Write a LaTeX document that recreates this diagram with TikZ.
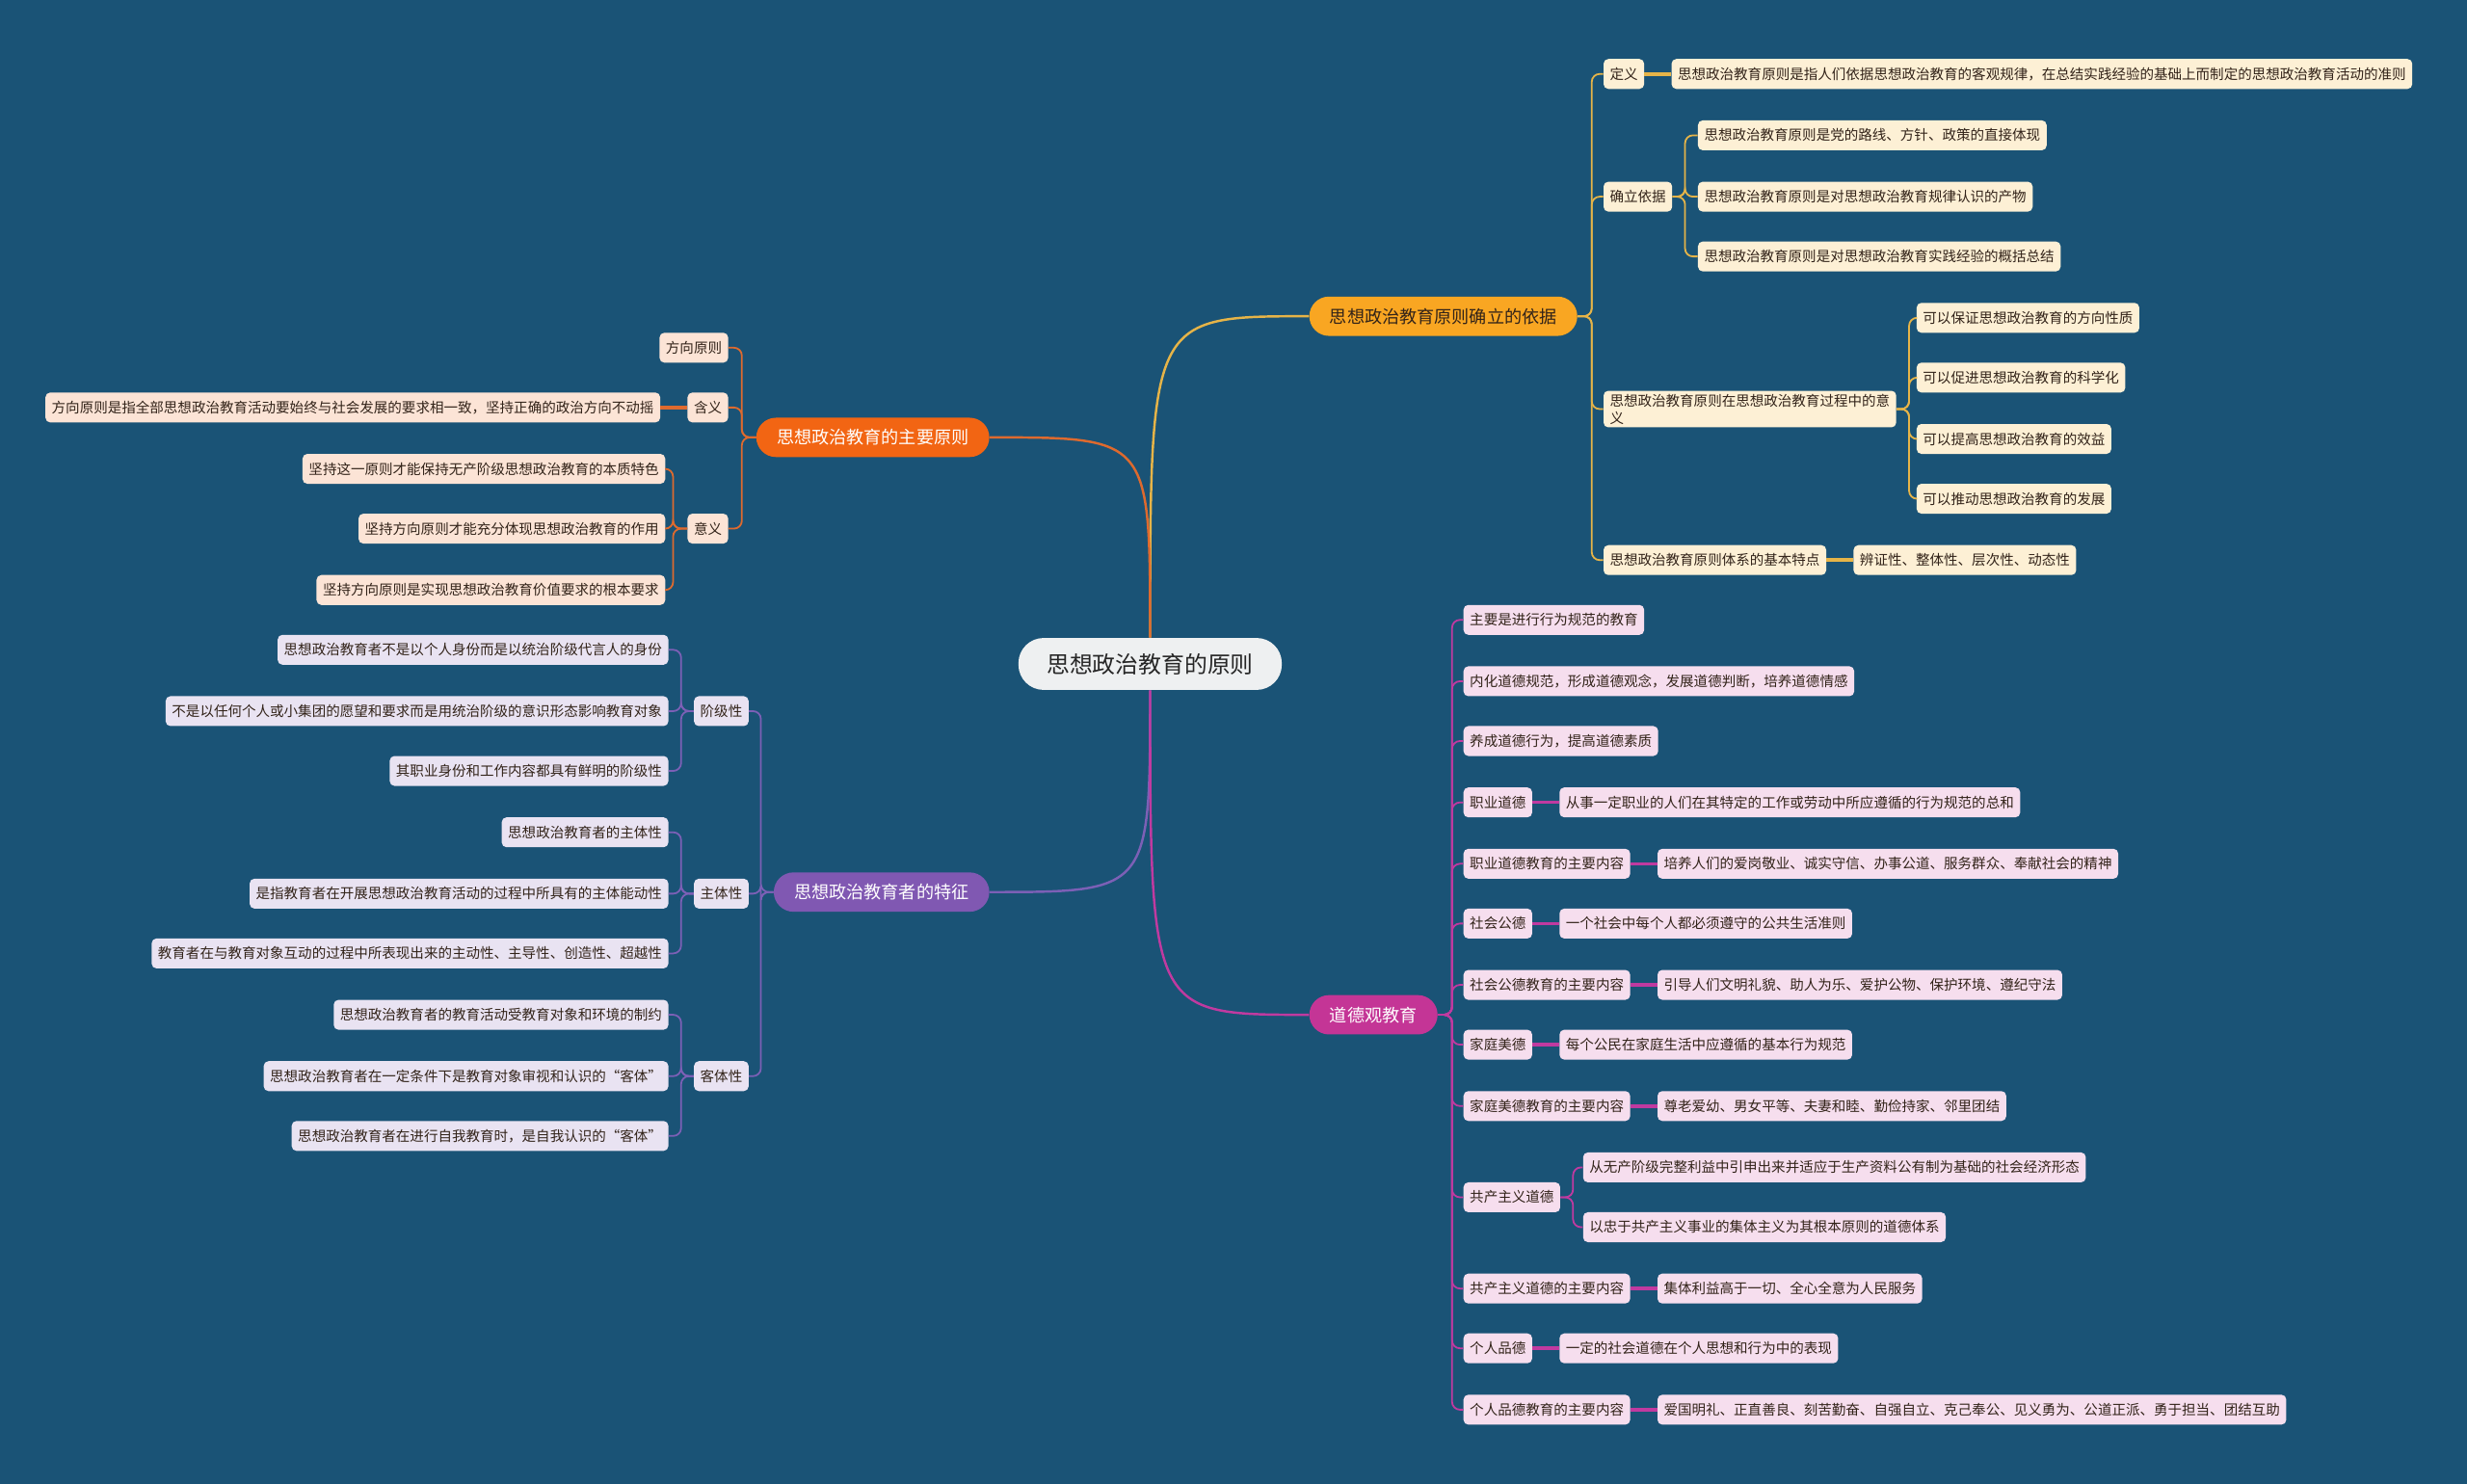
\documentclass[tikz,border=0pt]{standalone}
\usepackage{fontspec}
\setmainfont{Noto Sans CJK SC}
\usepackage{tikz}
\usetikzlibrary{positioning}
\definecolor{cBack}{RGB}{26,83,118}
\definecolor{cRoot}{RGB}{238,240,241}
\definecolor{cInk}{RGB}{50,35,25}
\definecolor{cAmber}{RGB}{249,166,34}
\definecolor{cAmberLn}{RGB}{230,180,72}
\definecolor{cAmberLf}{RGB}{253,240,213}
\definecolor{cOrange}{RGB}{242,101,19}
\definecolor{cOrangeLn}{RGB}{222,106,46}
\definecolor{cOrangeLf}{RGB}{252,228,214}
\definecolor{cPurple}{RGB}{128,88,178}
\definecolor{cPurpleLn}{RGB}{124,96,182}
\definecolor{cPurpleLf}{RGB}{233,227,242}
\definecolor{cMagenta}{RGB}{196,53,150}
\definecolor{cMagentaLn}{RGB}{192,58,160}
\definecolor{cMagentaLf}{RGB}{246,222,238}
\tikzset{
	rootnode/.style={rectangle, rounded corners=16pt, minimum height=33pt, inner xsep=18pt, fill=cRoot, text=black!85, font=\fontsize{14.6}{16}\selectfont},
	topic/.style   ={rectangle, rounded corners=12.5pt, minimum height=25pt, inner xsep=13pt, text=white, font=\fontsize{11.1}{13}\selectfont},
	leaf/.style    ={rectangle, rounded corners=3pt, minimum height=19pt, inner xsep=4pt, inner ysep=2pt, text=cInk, font=\fontsize{8.9}{11}\selectfont},
	aLeaf/.style   ={leaf, fill=cAmberLf},
	oLeaf/.style   ={leaf, fill=cOrangeLf},
	pLeaf/.style   ={leaf, fill=cPurpleLf},
	mLeaf/.style   ={leaf, fill=cMagentaLf},
	% connector styles
	branch/.style  ={line width=1.5pt},
	twig/.style    ={line width=1.1pt, rounded corners=5pt},
	stem/.style    ={line width=2.2pt},
}

\begin{document}
\begin{tikzpicture}[x=1pt, y=-1pt]
	\fill[cBack] (0,0) rectangle (1568,943);
	\useasboundingbox (0,0) rectangle (1568,943);

	\node[rootnode] (root) at (731,422) {思想政治教育的原则};
	\node[topic, fill=cAmber, text=cInk, anchor=west] (yiju) at (832,201) {思想政治教育原则确立的依据};
	\node[topic, fill=cOrange, anchor=east] (yuanze) at (629,278) {思想政治教育的主要原则};
	\node[topic, fill=cPurple, anchor=east] (tezheng) at (629,567) {思想政治教育者的特征};
	\node[topic, fill=cMagenta, anchor=west] (daode) at (832,645) {道德观教育};

	\draw[branch, cAmberLn]   (root.north) .. controls (root.north |- yiju.west) .. (yiju.west);
	\draw[branch, cOrangeLn]  (root.north) .. controls (root.north |- yuanze.east) .. (yuanze.east);
	\draw[branch, cPurpleLn]  (root.south) .. controls (root.south |- tezheng.east) .. (tezheng.east);
	\draw[branch, cMagentaLn] (root.south) .. controls (root.south |- daode.west) .. (daode.west);

	% 确立的依据
	\node[aLeaf, anchor=west] (dingyi) at (1019,47) {定义};
	\node[aLeaf, right=17pt of dingyi] (dingyiT) {思想政治教育原则是指人们依据思想政治教育的客观规律，在总结实践经验的基础上而制定的思想政治教育活动的准则};
	\node[aLeaf, anchor=west] (queli) at (1019,125) {确立依据};
	\node[aLeaf, anchor=west, align=left] (zuoyong) at (1019,260) {思想政治教育原则在思想政治教育过程中的意\\义};
	\node[aLeaf, anchor=west] (tedian) at (1019,356) {思想政治教育原则体系的基本特点};
	\node[aLeaf, right=17pt of tedian] (tedianT) {辨证性、整体性、层次性、动态性};
	\foreach \c in {dingyi, queli, zuoyong, tedian}
		\draw[twig, cAmberLn] (yiju.east) -- ++(9,0) |- (\c.west);
	\draw[stem, cAmberLn] (dingyi.east) -- (dingyiT.west);
	\draw[stem, cAmberLn] (tedian.east) -- (tedianT.west);
	\foreach \n/\y/\t in {q1/86/思想政治教育原则是党的路线、方针、政策的直接体现,
		q2/125/思想政治教育原则是对思想政治教育规律认识的产物,
		q3/163/思想政治教育原则是对思想政治教育实践经验的概括总结} {
		\node[aLeaf, anchor=west] (\n) at (1079,\y) {\t};
		\draw[twig, cAmberLn] (queli.east) -- ++(8,0) |- (\n.west);
	}
	\foreach \n/\y/\t in {z1/202/可以保证思想政治教育的方向性质,
		z2/240/可以促进思想政治教育的科学化,
		z3/279/可以提高思想政治教育的效益,
		z4/317/可以推动思想政治教育的发展} {
		\node[aLeaf, anchor=west] (\n) at (1218,\y) {\t};
		\draw[twig, cAmberLn] (zuoyong.east) -- ++(8,0) |- (\n.west);
	}

	% 主要原则
	\node[oLeaf, anchor=east] (fangxiang) at (463,221) {方向原则};
	\node[oLeaf, anchor=east] (hanyi) at (463,259) {含义};
	\node[oLeaf, left=17pt of hanyi] (hanyiT) {方向原则是指全部思想政治教育活动要始终与社会发展的要求相一致，坚持正确的政治方向不动摇};
	\node[oLeaf, anchor=east] (yiyi) at (463,336) {意义};
	\foreach \c in {fangxiang, hanyi, yiyi}
		\draw[twig, cOrangeLn] (yuanze.west) -- ++(-9,0) |- (\c.east);
	\draw[stem, cOrangeLn] (hanyi.west) -- (hanyiT.east);
	\foreach \n/\y/\t in {y1/298/坚持这一原则才能保持无产阶级思想政治教育的本质特色,
		y2/336/坚持方向原则才能充分体现思想政治教育的作用,
		y3/375/坚持方向原则是实现思想政治教育价值要求的根本要求} {
		\node[oLeaf, anchor=east] (\n) at (423,\y) {\t};
		\draw[twig, cOrangeLn] (yiyi.west) -- ++(-9,0) |- (\n.east);
	}

	% 教育者的特征
	\foreach \n/\y/\t in {jieji/452/阶级性, zhuti/568/主体性, keti/684/客体性} {
		\node[pLeaf, anchor=east] (\n) at (476,\y) {\t};
		\draw[twig, cPurpleLn] (tezheng.west) -- ++(-8,0) |- (\n.east);
	}
	\foreach \p/\n/\y/\t in {jieji/j1/413/思想政治教育者不是以个人身份而是以统治阶级代言人的身份,
		jieji/j2/452/不是以任何个人或小集团的愿望和要求而是用统治阶级的意识形态影响教育对象,
		jieji/j3/490/其职业身份和工作内容都具有鲜明的阶级性,
		zhuti/h1/529/思想政治教育者的主体性,
		zhuti/h2/568/是指教育者在开展思想政治教育活动的过程中所具有的主体能动性,
		zhuti/h3/606/教育者在与教育对象互动的过程中所表现出来的主动性、主导性、创造性、超越性,
		keti/k1/645/思想政治教育者的教育活动受教育对象和环境的制约,
		keti/k2/684/思想政治教育者在一定条件下是教育对象审视和认识的“客体”,
		keti/k3/722/思想政治教育者在进行自我教育时，是自我认识的“客体”} {
		\node[pLeaf, anchor=east] (\n) at (425,\y) {\t};
		\draw[twig, cPurpleLn] (\p.west) -- ++(-8,0) |- (\n.east);
	}

	% 道德观教育
	\foreach \n/\y/\t in {m1/394/主要是进行行为规范的教育,
		m2/433/内化道德规范，形成道德观念，发展道德判断，培养道德情感,
		m3/471/养成道德行为，提高道德素质} {
		\node[mLeaf, anchor=west] (\n) at (930,\y) {\t};
		\draw[twig, cMagentaLn] (daode.east) -- ++(9,0) |- (\n.west);
	}
	\foreach \n/\y/\t/\s in {m4/510/职业道德/从事一定职业的人们在其特定的工作或劳动中所应遵循的行为规范的总和,
		m5/549/职业道德教育的主要内容/培养人们的爱岗敬业、诚实守信、办事公道、服务群众、奉献社会的精神,
		m6/587/社会公德/一个社会中每个人都必须遵守的公共生活准则,
		m7/626/社会公德教育的主要内容/引导人们文明礼貌、助人为乐、爱护公物、保护环境、遵纪守法,
		m8/664/家庭美德/每个公民在家庭生活中应遵循的基本行为规范,
		m9/703/家庭美德教育的主要内容/尊老爱幼、男女平等、夫妻和睦、勤俭持家、邻里团结,
		m11/819/共产主义道德的主要内容/集体利益高于一切、全心全意为人民服务,
		m12/857/个人品德/一定的社会道德在个人思想和行为中的表现,
		m13/896/个人品德教育的主要内容/爱国明礼、正直善良、刻苦勤奋、自强自立、克己奉公、见义勇为、公道正派、勇于担当、团结互助} {
		\node[mLeaf, anchor=west] (\n) at (930,\y) {\t};
		\node[mLeaf, right=17pt of \n] (\n-t) {\s};
		\draw[twig, cMagentaLn] (daode.east) -- ++(9,0) |- (\n.west);
		\draw[stem, cMagentaLn] (\n.east) -- (\n-t.west);
	}
	\node[mLeaf, anchor=west] (gongchan) at (930,761) {共产主义道德};
	\draw[twig, cMagentaLn] (daode.east) -- ++(9,0) |- (gongchan.west);
	\node[mLeaf, anchor=west] (g1) at (1006,742) {从无产阶级完整利益中引申出来并适应于生产资料公有制为基础的社会经济形态};
	\node[mLeaf, anchor=west] (g2) at (1006,780) {以忠于共产主义事业的集体主义为其根本原则的道德体系};
	\foreach \n in {g1, g2}
		\draw[twig, cMagentaLn] (gongchan.east) -- ++(8,0) |- (\n.west);
\end{tikzpicture}
\end{document}
